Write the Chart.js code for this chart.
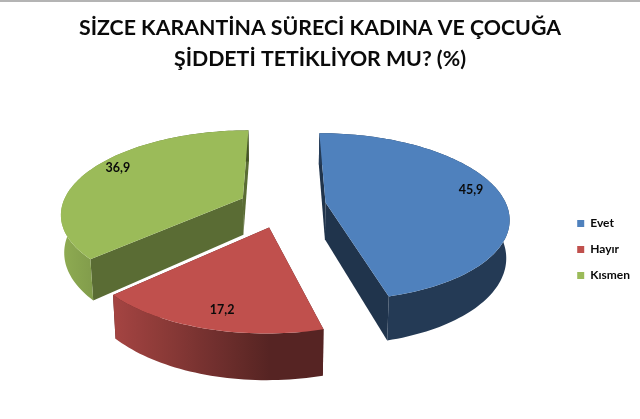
<!DOCTYPE html>
<html lang="tr">
<head>
<meta charset="utf-8">
<style>
html,body{margin:0;padding:0;background:#fff;width:640px;height:419px;overflow:hidden}
#wrap{position:relative;width:640px;height:419px}
#rule{position:absolute;left:0;top:0;width:640px;height:2px;background:#b4b4b4}
canvas{position:absolute;left:0;top:0}
</style>
<script src="https://cdn.jsdelivr.net/npm/chart.js@4"></script>
</head>
<body>
<div id="wrap"><canvas id="c" width="640" height="419"></canvas><div id="rule"></div></div>
<script>
const categories = ["Evet", "Hayır", "Kısmen"];
const values = [45.9, 17.2, 36.9];
const sliceColors = ["#4F81BD", "#C0504D", "#9BBB59"];
const titleLines = ["SİZCE KARANTİNA SÜRECİ KADINA VE ÇOCUĞA", "ŞİDDETİ TETİKLİYOR MU? (%)"];

// View settings for the 3D look (not data)
const view = {
  tilt: 0.453, persp: 0.171, depth: 37, depthShrink: 0.015, explode: 0.2375, centerUp: 45,
  nudgeX: [1.5, 0, 0],
  nudgeY: [0, 3, 1],
  sizeScale: [1, 0.985, 1],
  wallShade: [0.40, 0.45, 0.58],
  labelShift: [[145.5, -13], [-47, 82.5], [-125, -30]],
  legendShift: [0, 40]
};

function shade(hex, f) {
  const n = parseInt(hex.slice(1), 16);
  return "rgb(" + [(n >> 16) & 255, (n >> 8) & 255, n & 255].map(c => Math.round(c * f)).join(",") + ")";
}
const rimLight = u => (u > 0 ? 0.45 : 0.45 - 0.47 * u);

const pie3d = {
  id: "pie3d",
  afterLayout(chart) {
    const lg = chart.legend;
    lg.left += view.legendShift[0]; lg.right += view.legendShift[0];
    lg.top += view.legendShift[1]; lg.bottom += view.legendShift[1];
  },
  beforeDatasetDraw(chart, args) {
    const ctx = chart.ctx;
    const arcs = chart.getDatasetMeta(args.index).data;
    const order = arcs.map((_, i) => i).sort((a, b) => {
      const m = i => Math.sin((arcs[i].startAngle + arcs[i].endAngle) / 2);
      return m(a) - m(b);
    });
    const apexOf = (el, i) => {
      const mid = (el.startAngle + el.endAngle) / 2;
      const oU = Math.cos(mid) * view.explode, oV = Math.sin(mid) * view.explode;
      return { oU, oV, x0: el.x + view.nudgeX[i], y0: el.y - view.centerUp + view.nudgeY[i] };
    };
    order.forEach(i => {
      const el = arcs[i];
      const R = el.outerRadius, Ry = R * view.tilt;
      const { oU, oV, x0, y0 } = apexOf(el, i);
      const sc = view.sizeScale[i];
      const proj = (U, V, d) => {
        const uu = U * sc + oU, vv = V * sc + oV;
        const s = 1 / (1 - view.persp * vv);
        const shrink = 1 - view.depthShrink * d / view.depth;
        return [x0 + R * uu * s * shrink, y0 + Ry * vv * s + d * s];
      };
      const base = el.options.backgroundColor;
      const fillPoly = (pts, color) => {
        ctx.beginPath();
        pts.forEach((p, j) => j ? ctx.lineTo(p[0], p[1]) : ctx.moveTo(p[0], p[1]));
        ctx.closePath();
        ctx.fillStyle = color; ctx.fill();
      };
      const n = Math.ceil((el.endAngle - el.startAngle) / (Math.PI / 120));
      const rim = [];
      for (let j = 0; j <= n; j++) {
        const a = el.startAngle + (el.endAngle - el.startAngle) * j / n;
        rim.push([Math.cos(a), Math.sin(a)]);
      }
      const D = view.depth;
      const first = rim[0], last = rim[n];
      // radial walls
      [first, last].forEach(p => {
        fillPoly([proj(0, 0, 0), proj(p[0], p[1], 0), proj(p[0], p[1], D), proj(0, 0, D)], shade(base, view.wallShade[i]));
      });
      // outer wall, lit from the left
      const left = x0 + R * (oU - 1.1), right = x0 + R * (oU + 1.1);
      const grad = ctx.createLinearGradient(left, 0, right, 0);
      for (let k = 0; k <= 22; k++) grad.addColorStop(k / 22, shade(base, rimLight((k - 11) / 10 > 1 ? 1 : (k - 11) / 10 < -1 ? -1 : (k - 11) / 10)));
      fillPoly(rim.map(p => proj(p[0], p[1], 0)).concat(rim.slice().reverse().map(p => proj(p[0], p[1], D))), grad);
      // top face
      fillPoly([proj(0, 0, 0)].concat(rim.map(p => proj(p[0], p[1], 0))), base);
    });
    // value labels
    ctx.font = "bold 12.5px Lato";
    ctx.fillStyle = "#0a0a0a";
    ctx.textAlign = "center"; ctx.textBaseline = "middle";
    arcs.forEach((el, i) => {
      const { oU, oV, x0, y0 } = apexOf(el, i);
      const R = el.outerRadius, s = 1 / (1 - view.persp * oV);
      const ax = x0 + R * oU * s, ay = y0 + R * view.tilt * oV * s;
      ctx.fillText(String(values[i]).replace(".", ","), ax + view.labelShift[i][0], ay + view.labelShift[i][1]);
    });
    return false;
  }
};

new Chart(document.getElementById("c"), {
  type: "pie",
  data: {
    labels: categories,
    datasets: [{ data: values, backgroundColor: sliceColors, borderWidth: 0 }]
  },
  options: {
    responsive: false,
    animation: false,
    radius: 181,
    layout: { padding: { left: 0, right: 0, top: 0, bottom: 0 } },
    plugins: {
      tooltip: { enabled: false },
      title: {
        display: true,
        text: titleLines,
        color: "#0a0a0a",
        font: { family: "Lato", weight: "bold", size: 21.3, lineHeight: 1.455 },
        padding: { top: 13, bottom: 6 }
      },
      legend: {
        position: "right",
        labels: {
          boxWidth: 7, boxHeight: 7, padding: 14,
          color: "#0a0a0a",
          font: { family: "Lato", weight: "bold", size: 12 }
        }
      }
    }
  },
  plugins: [pie3d]
});
</script>
</body>
</html>
